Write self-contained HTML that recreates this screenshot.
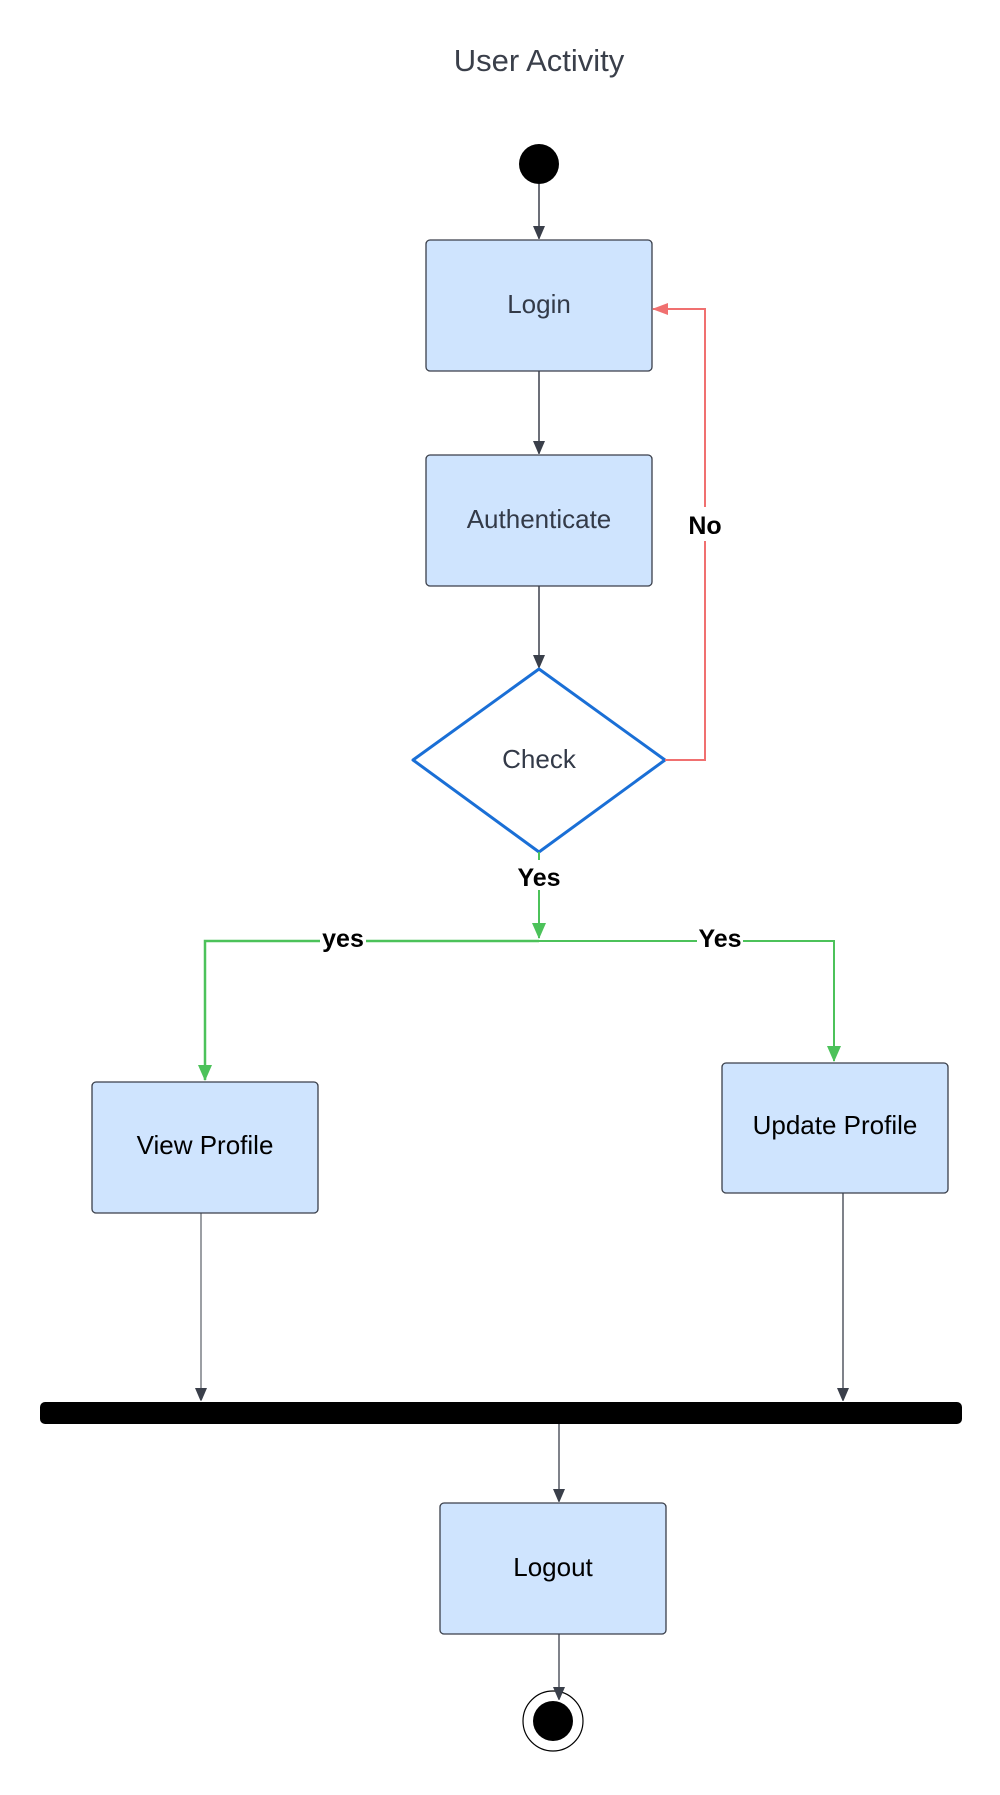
<!DOCTYPE html>
<html><head><style>body{margin:0;background:#fff}</style></head><body>
<svg width="1000" height="1790" viewBox="0 0 1000 1790" xmlns="http://www.w3.org/2000/svg" font-family="Liberation Sans, sans-serif">
<defs>
<marker id="ad" markerWidth="12" markerHeight="14" refX="13" refY="6" orient="auto" markerUnits="userSpaceOnUse"><path d="M0,0 L14,6 L0,12 z" fill="#3a3f4a"/></marker>
<marker id="ar" markerWidth="16" markerHeight="12" refX="15" refY="6" orient="auto" markerUnits="userSpaceOnUse"><path d="M0,0 L16,6 L0,12 z" fill="#f07070"/></marker>
<marker id="ag" markerWidth="16" markerHeight="14" refX="15" refY="7" orient="auto" markerUnits="userSpaceOnUse"><path d="M0,0 L16,7 L0,14 z" fill="#4cc25a"/></marker>
</defs>
<text x="539" y="71" font-size="31" text-anchor="middle" fill="#3a3f4a">User Activity</text>
<circle cx="539" cy="164" r="20" fill="#000"/>
<line x1="539" y1="184" x2="539" y2="239" stroke="#3a3f4a" stroke-width="1.5" marker-end="url(#ad)"/>
<rect x="426" y="240" width="226" height="131" rx="4" fill="#cfe4fe" stroke="#3a3f4a" stroke-width="1.3"/>
<text x="539" y="313" font-size="26" text-anchor="middle" fill="#333a48">Login</text>
<line x1="539" y1="371" x2="539" y2="454" stroke="#3a3f4a" stroke-width="1.5" marker-end="url(#ad)"/>
<rect x="426" y="455" width="226" height="131" rx="4" fill="#cfe4fe" stroke="#3a3f4a" stroke-width="1.3"/>
<text x="539" y="528" font-size="26" text-anchor="middle" fill="#333a48">Authenticate</text>
<line x1="539" y1="586" x2="539" y2="668" stroke="#3a3f4a" stroke-width="1.5" marker-end="url(#ad)"/>
<path d="M539,669 L665,760 L539,852 L413,760 Z" fill="#fff" stroke="#1a6fd6" stroke-width="3" stroke-linejoin="round"/>
<text x="539" y="768" font-size="26" text-anchor="middle" fill="#333a48">Check</text>
<path d="M665,760 L705,760 L705,309 L653,309" fill="none" stroke="#f07070" stroke-width="2" marker-end="url(#ar)"/>
<rect x="686" y="507" width="38" height="34" fill="#fff"/>
<text x="705" y="534" font-size="25" font-weight="bold" text-anchor="middle" fill="#000">No</text>
<path d="M539,852 L539,938" stroke="#4cc25a" stroke-width="2" marker-end="url(#ag)"/>
<rect x="512" y="860" width="56" height="30" fill="#fff"/>
<text x="539" y="886" font-size="25" font-weight="bold" text-anchor="middle" fill="#000">Yes</text>
<path d="M539,941 L205,941 L205,1080" fill="none" stroke="#4cc25a" stroke-width="2.5" marker-end="url(#ag)"/>
<path d="M539,941 L834,941 L834,1061" fill="none" stroke="#4cc25a" stroke-width="2" marker-end="url(#ag)"/>
<rect x="320" y="926" width="46" height="26" fill="#fff"/>
<text x="343" y="947" font-size="25" font-weight="bold" text-anchor="middle" fill="#000">yes</text>
<rect x="697" y="926" width="46" height="26" fill="#fff"/>
<text x="720" y="947" font-size="25" font-weight="bold" text-anchor="middle" fill="#000">Yes</text>
<rect x="92" y="1082" width="226" height="131" rx="4" fill="#cfe4fe" stroke="#3a3f4a" stroke-width="1.3"/>
<text x="205" y="1154" font-size="26" text-anchor="middle" fill="#000">View Profile</text>
<rect x="722" y="1063" width="226" height="130" rx="4" fill="#cfe4fe" stroke="#3a3f4a" stroke-width="1.3"/>
<text x="835" y="1134" font-size="26" text-anchor="middle" fill="#000">Update Profile</text>
<line x1="201" y1="1213" x2="201" y2="1401" stroke="#3a3f4a" stroke-width="1" marker-end="url(#ad)"/>
<line x1="843" y1="1193" x2="843" y2="1401" stroke="#3a3f4a" stroke-width="1.3" marker-end="url(#ad)"/>
<rect x="40" y="1402" width="922" height="22" rx="5" fill="#000"/>
<line x1="559" y1="1424" x2="559" y2="1502" stroke="#3a3f4a" stroke-width="1.3" marker-end="url(#ad)"/>
<rect x="440" y="1503" width="226" height="131" rx="4" fill="#cfe4fe" stroke="#3a3f4a" stroke-width="1.3"/>
<text x="553" y="1576" font-size="26" text-anchor="middle" fill="#000">Logout</text>
<circle cx="553" cy="1721" r="30" fill="#fff" stroke="#000" stroke-width="1.2"/>
<circle cx="553" cy="1721" r="20" fill="#000"/>
<line x1="559" y1="1634" x2="559" y2="1700" stroke="#3a3f4a" stroke-width="1.3" marker-end="url(#ad)"/>
</svg>
</body></html>
